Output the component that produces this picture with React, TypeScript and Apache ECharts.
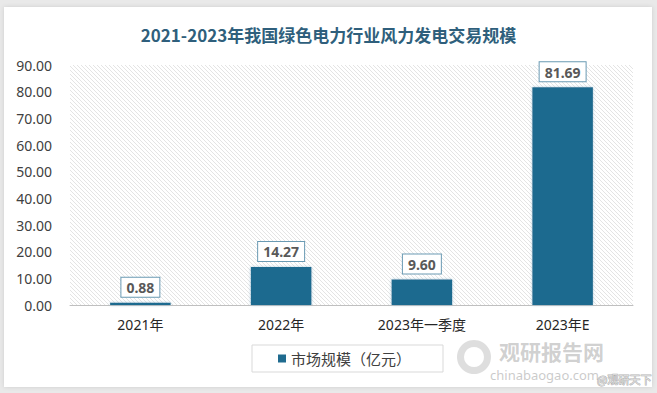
import React, { useEffect, useRef } from "react";
import * as echarts from "echarts";

const categories = ["2021年", "2022年", "2023年一季度", "2023年E"];
const values = [0.88, 14.27, 9.6, 81.69];
const seriesName = "市场规模（亿元）";
const titleText = "2021-2023年我国绿色电力行业风力发电交易规模";

function makeHatch(): HTMLCanvasElement {
  const c = document.createElement("canvas");
  c.width = 4;
  c.height = 4;
  const ctx = c.getContext("2d")!;
  ctx.fillStyle = "#ffffff";
  ctx.fillRect(0, 0, 4, 4);
  ctx.fillStyle = "#e4e4e4";
  for (let i = 0; i < 4; i++) ctx.fillRect(i, i, 1, 1);
  return c;
}

export default function App() {
  const ref = useRef<HTMLDivElement>(null);
  useEffect(() => {
    document.body.style.margin = "0";
    const chart = echarts.init(ref.current!, undefined, { renderer: "svg" });
    const hatch = makeHatch();
    chart.setOption({
      animation: false,
      backgroundColor: "#e9e9e9",
      title: {
        text: titleText,
        left: "center",
        top: 21,
        textStyle: {
          fontFamily: "Noto Sans CJK SC",
          fontSize: 17,
          fontWeight: "bold",
          color: "#2f5f7c",
        },
      },
      graphic: [
        {
          type: "rect",
          z: -10,
          shape: { x: 4, y: 7, width: 648, height: 380 },
          style: { fill: "#ffffff", shadowBlur: 4, shadowColor: "rgba(0,0,0,0.12)" },
          silent: true,
        },
        {
          type: "ring",
          z: 20,
          shape: { cx: 474, cy: 357, r: 17, r0: 10 },
          style: { fill: "rgba(160,160,160,0.35)" },
          silent: true,
        },
        {
          type: "text",
          z: 20,
          x: 499,
          y: 340,
          style: {
            text: "观研报告网",
            font: "bold 21px 'Noto Sans CJK SC'",
            lineHeight: 21,
            fill: "rgba(150,150,150,0.45)",
          },
          silent: true,
        },
        {
          type: "text",
          z: 20,
          x: 490,
          y: 368,
          style: {
            text: "chinabaogao.com",
            font: "13px 'Noto Sans'",
            lineHeight: 13,
            fill: "rgba(150,150,150,0.5)",
          },
          silent: true,
        },
        {
          type: "text",
          z: 21,
          x: 597,
          y: 373,
          style: {
            text: "@观研天下",
            font: "11px 'Noto Sans CJK SC'",
            lineHeight: 11,
            fill: "rgba(255,255,255,0.6)",
            stroke: "rgba(140,140,140,0.7)",
            lineWidth: 1,
          },
          silent: true,
        },
      ],
      grid: {
        left: 70,
        right: 24,
        top: 65,
        bottom: 88,
        show: true,
        borderWidth: 0,
        backgroundColor: { image: hatch, repeat: "repeat" },
      },
      legend: {
        data: [seriesName],
        left: 252,
        top: 345,
        icon: "rect",
        itemWidth: 8,
        itemHeight: 8,
        padding: [6, 32, 6, 26],
        borderColor: "#d9d9d9",
        borderWidth: 1,
        textStyle: { fontSize: 15, color: "#404040", fontFamily: "Noto Sans CJK SC" },
      },
      xAxis: {
        type: "category",
        data: categories,
        axisTick: { show: false },
        axisLine: { lineStyle: { color: "#bfbfbf" } },
        axisLabel: {
          fontSize: 14,
          color: "#262626",
          margin: 12,
          fontFamily: "Noto Sans, Noto Sans CJK SC",
        },
      },
      yAxis: {
        type: "value",
        min: 0,
        max: 90,
        interval: 10,
        splitLine: { show: false },
        axisLine: { show: false },
        axisTick: { show: false },
        axisLabel: {
          fontSize: 14,
          color: "#404040",
          margin: 18,
          fontFamily: "Noto Sans",
          formatter: (v: number) => v.toFixed(2),
        },
      },
      series: [
        {
          name: seriesName,
          type: "bar",
          data: values,
          barWidth: "43%",
          barMinHeight: 2,
          itemStyle: {
            color: "#1f6b8f",
            shadowBlur: 3,
            shadowColor: "rgba(120,170,200,0.6)",
          },
          label: {
            show: true,
            position: "top",
            distance: 6,
            formatter: (p: any) => Number(p.value).toFixed(2),
            backgroundColor: "#ffffff",
            borderColor: "#6a9ab3",
            borderWidth: 1,
            padding: [3, 5, 2, 5],
            fontSize: 14,
            fontWeight: "bold",
            color: "#595959",
            fontFamily: "Noto Sans",
          },
        },
      ],
    });
    return () => chart.dispose();
  }, []);
  return <div ref={ref} style={{ width: 657, height: 393 }} />;
}
